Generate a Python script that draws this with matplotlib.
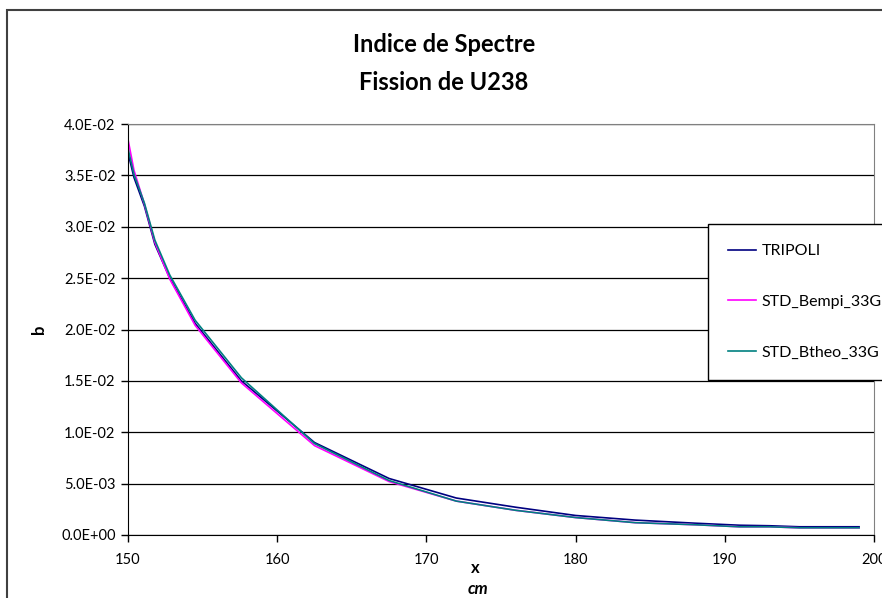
import matplotlib
matplotlib.use('Agg')
import matplotlib.pyplot as plt
from matplotlib.patches import Rectangle

# positions (cm) and spectral index values for each calculation
x_cm = [150.0, 150.4, 151.1, 151.8, 152.8, 154.5, 157.6, 162.5, 167.5, 172.0,
        176.0, 180.0, 184.0, 188.0, 191.0, 193.0, 195.0, 197.0, 199.0]
tripoli = [0.0372, 0.0348, 0.0320, 0.0283, 0.0250, 0.0206, 0.0150, 0.0090, 0.0055, 0.0036,
           0.0027, 0.0019, 0.00145, 0.00115, 0.00095, 0.0009, 0.0008, 0.0008, 0.0008]
std_bempi = [0.0385, 0.0355, 0.0322, 0.0285, 0.0249, 0.0204, 0.0148, 0.0087, 0.0052, 0.0033,
             0.0024, 0.0017, 0.0012, 0.0010, 0.0008, 0.0008, 0.0007, 0.0007, 0.0007]
std_btheo = [0.0376, 0.0351, 0.0323, 0.0287, 0.0253, 0.0209, 0.0153, 0.0089, 0.0053, 0.0033,
             0.0024, 0.0017, 0.0012, 0.0010, 0.0008, 0.0008, 0.0007, 0.0007, 0.0007]

x_ticks = [150, 160, 170, 180, 190, 200]
y_ticks = [0.0, 0.005, 0.01, 0.015, 0.02, 0.025, 0.03, 0.035, 0.04]


def main():
    plt.rcParams['font.family'] = ['Lato', 'DejaVu Sans']
    fig = plt.figure(figsize=(8.82, 5.98), dpi=100)

    # chart frame
    fig.patches.append(Rectangle((7 / 882, -0.2), 1.2, 1.2 - 10 / 598,
                                 transform=fig.transFigure, fill=False,
                                 edgecolor='#404040', linewidth=1.5))

    ax = fig.add_axes([128 / 882, 1 - 535 / 598, (874 - 128) / 882, (535 - 124) / 598])

    ax.plot(x_cm, tripoli, color='#000080', lw=1.2, label='TRIPOLI')
    ax.plot(x_cm, std_bempi, color='#FF00FF', lw=1.2, label='STD_Bempi_33G')
    ax.plot(x_cm, std_btheo, color='#008080', lw=1.2, label='STD_Btheo_33G')

    ax.set_xlim(150, 200)
    ax.set_ylim(0, 0.04)
    ax.set_xticks(x_ticks)
    ax.set_yticks(y_ticks)
    ax.set_yticklabels(['%.1E' % v for v in y_ticks])
    ax.tick_params(axis='both', direction='out', length=5, width=1, labelsize=10.5, pad=4)
    ax.tick_params(axis='x', pad=8)
    ax.yaxis.grid(True, color='black', linewidth=0.9)
    ax.set_axisbelow(True)
    for side in ['left', 'bottom']:
        ax.spines[side].set_color('black')
    for side in ['top', 'right']:
        ax.spines[side].set_color('#808080')

    ax.set_ylabel('b', fontsize=12, fontweight='bold', labelpad=10)
    fig.text(475 / 882, 1 - 568 / 598, 'x', ha='center', va='center',
             fontsize=12, fontweight='bold')
    fig.text(478 / 882, 1 - 589 / 598, 'cm', ha='center', va='center',
             fontsize=12, fontweight='bold', style='italic')

    fig.text(444 / 882, 1 - 45 / 598, 'Indice de Spectre', ha='center', va='center',
             fontsize=17, fontweight='bold')
    fig.text(444 / 882, 1 - 82 / 598, 'Fission de U238', ha='center', va='center',
             fontsize=17, fontweight='bold')

    leg = ax.legend(loc='upper left', bbox_to_anchor=(708 / 882, 1 - 224 / 598),
                    bbox_transform=fig.transFigure, borderaxespad=0, frameon=True,
                    fancybox=False, edgecolor='black', framealpha=1,
                    fontsize=11.5, labelspacing=2.3, handlelength=1.75,
                    handletextpad=0.35, borderpad=1.25)
    leg.get_frame().set_linewidth(1.0)

    fig.savefig('out.png', dpi=100)


if __name__ == '__main__':
    main()
